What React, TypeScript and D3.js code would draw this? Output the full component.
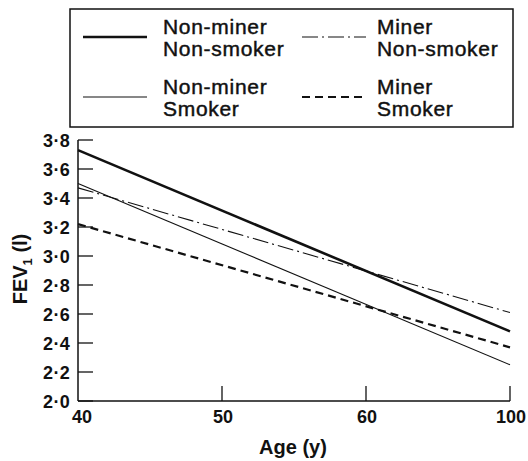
import React, { useEffect, useRef } from "react";
import * as d3 from "d3";

const ages = ["40", "50", "60", "100"];
const yTicks = [2.0, 2.2, 2.4, 2.6, 2.8, 3.0, 3.2, 3.4, 3.6, 3.8];

const seriesNames = ["Non-miner Non-smoker", "Miner Non-smoker", "Non-miner Smoker", "Miner Smoker"];
// FEV1 at age 40 and at age 100
const startValues = [3.73, 3.47, 3.5, 3.22];
const endValues = [2.48, 2.61, 2.25, 2.37];

const styles = [
  { width: 2.6, dash: "" },
  { width: 1.1, dash: "16,4,2,4" },
  { width: 1.1, dash: "" },
  { width: 2.2, dash: "8,5" },
];

const font = "'Liberation Sans', Arial, Helvetica, sans-serif";

const drawChart = (svgRef) => {
  const svg = d3.select(svgRef.current);
  svg.selectAll("*").remove();

  const x = d3.scalePoint().domain(ages).range([78, 510]);
  const y = d3.scaleLinear().domain([2.0, 3.8]).range([401, 140]);
  const fmt = (d) => d3.format(".1f")(d).replace(".", "·");

  // legend box
  svg
    .append("rect")
    .attr("x", 70)
    .attr("y", 9)
    .attr("width", 443)
    .attr("height", 118)
    .attr("fill", "none")
    .attr("stroke", "#111")
    .attr("stroke-width", 1.5);

  const legendPos = [
    { lx: 83, ly: 37, tx: 163, ty: 34 },
    { lx: 302, ly: 37, tx: 377, ty: 34 },
    { lx: 83, ly: 97, tx: 163, ty: 94 },
    { lx: 302, ly: 97, tx: 377, ty: 94 },
  ];

  seriesNames.forEach((name, i) => {
    const p = legendPos[i];
    svg
      .append("line")
      .attr("x1", p.lx)
      .attr("x2", p.lx + 64)
      .attr("y1", p.ly)
      .attr("y2", p.ly)
      .attr("stroke", "#111")
      .attr("stroke-width", styles[i].width)
      .attr("stroke-dasharray", styles[i].dash);
    const words = name.split(" ");
    const t = svg
      .append("text")
      .attr("font-family", font)
      .attr("font-size", 21)
      .attr("letter-spacing", 0.7)
      .attr("fill", "#111")
      .attr("stroke", "#111")
      .attr("stroke-width", 0.45);
    words.forEach((w, j) => {
      t.append("tspan")
        .attr("x", p.tx)
        .attr("y", p.ty + j * 21.5)
        .text(w);
    });
  });

  // axes
  const g = svg.append("g");
  g.append("line")
    .attr("x1", 78)
    .attr("x2", 78)
    .attr("y1", y(3.8))
    .attr("y2", y(2.0))
    .attr("stroke", "#111")
    .attr("stroke-width", 1.5);
  g.append("line")
    .attr("x1", 78)
    .attr("x2", 510)
    .attr("y1", y(2.0))
    .attr("y2", y(2.0))
    .attr("stroke", "#111")
    .attr("stroke-width", 1.5);

  g.selectAll("line.ytick")
    .data(yTicks)
    .enter()
    .append("line")
    .attr("class", "ytick")
    .attr("x1", 78)
    .attr("x2", 93)
    .attr("y1", (d) => y(d))
    .attr("y2", (d) => y(d))
    .attr("stroke", "#111")
    .attr("stroke-width", 1.3);

  g.selectAll("text.ylab")
    .data(yTicks)
    .enter()
    .append("text")
    .attr("class", "ylab")
    .attr("x", 70)
    .attr("y", (d) => y(d) + 6.5)
    .attr("text-anchor", "end")
    .attr("font-family", font)
    .attr("font-weight", "bold")
    .attr("font-size", 18)
    .attr("letter-spacing", 0.3)
    .attr("fill", "#111")
    .text(fmt);

  g.selectAll("line.xtick")
    .data(ages.slice(1))
    .enter()
    .append("line")
    .attr("class", "xtick")
    .attr("x1", (d) => x(d))
    .attr("x2", (d) => x(d))
    .attr("y1", y(2.0))
    .attr("y2", y(2.0) - 15)
    .attr("stroke", "#111")
    .attr("stroke-width", 1.3);

  g.selectAll("text.xlab")
    .data(ages)
    .enter()
    .append("text")
    .attr("class", "xlab")
    .attr("x", (d, i) => x(d) + (i === 0 ? 4 : 1))
    .attr("y", 423)
    .attr("text-anchor", "middle")
    .attr("font-family", font)
    .attr("font-weight", "bold")
    .attr("font-size", 18)
    .attr("fill", "#111")
    .text((d) => d);

  svg
    .append("text")
    .attr("x", 293)
    .attr("y", 454)
    .attr("text-anchor", "middle")
    .attr("font-family", font)
    .attr("font-weight", "bold")
    .attr("font-size", 20)
    .attr("fill", "#111")
    .text("Age (y)");

  const yt = svg
    .append("text")
    .attr("transform", "translate(27,269) rotate(-90)")
    .attr("text-anchor", "middle")
    .attr("font-family", font)
    .attr("font-weight", "bold")
    .attr("font-size", 20)
    .attr("fill", "#111");
  yt.append("tspan").text("FEV");
  yt.append("tspan").attr("font-size", 13).attr("dy", 5).text("1");
  yt.append("tspan").attr("dy", -5).text(" (l)");

  // series lines
  const line = d3
    .line()
    .x((d) => x(d[0]))
    .y((d) => y(d[1]));

  seriesNames.forEach((name, i) => {
    const pts = [
      [ages[0], startValues[i]],
      [ages[ages.length - 1], endValues[i]],
    ];
    svg
      .append("path")
      .attr("d", line(pts))
      .attr("fill", "none")
      .attr("stroke", "#111")
      .attr("stroke-width", styles[i].width)
      .attr("stroke-dasharray", styles[i].dash);
  });
};

const App = () => {
  const svg = useRef(null);

  useEffect(() => {
    drawChart(svg);
  }, []);

  return (
    <div style={{ position: "absolute", left: 0, top: 0 }}>
      <svg ref={svg} width={528} height={461} style={{ display: "block", background: "#fff" }} />
    </div>
  );
};

export default App;
